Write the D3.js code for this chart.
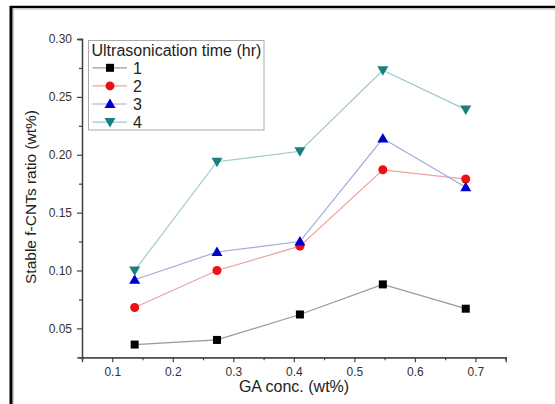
<!DOCTYPE html>
<html><head><meta charset="utf-8">
<script src="https://cdn.jsdelivr.net/npm/d3@7"></script>
<style>body{margin:0;background:#fff;} svg{display:block;font-family:"Liberation Sans",Arial,sans-serif;}</style>
</head><body>
<script>
const gaConc = [0.137, 0.273, 0.41, 0.547, 0.684];
const seriesNames = ["1", "2", "3", "4"];
const s1 = [0.036, 0.040, 0.062, 0.088, 0.067];
const s2 = [0.068, 0.100, 0.121, 0.187, 0.179];
const s3 = [0.092, 0.116, 0.125, 0.214, 0.172];
const s4 = [0.100, 0.194, 0.203, 0.273, 0.239];
const xTicks = [0.1, 0.2, 0.3, 0.4, 0.5, 0.6, 0.7];
const yTicks = [0.05, 0.10, 0.15, 0.20, 0.25, 0.30];
const legendTitle = "Ultrasonication time (hr)";
const xTitle = "GA conc. (wt%)";
const yTitle = "Stable f-CNTs ratio (wt%)";

const W = 555, H = 404;
const svg = d3.select("body").append("svg").attr("width", W).attr("height", H);

// outer frame (top and left edges)
svg.append("rect").attr("x",0).attr("y",0).attr("width",W).attr("height",H).attr("fill","#fff");
svg.append("line").attr("x1",10).attr("x2",W).attr("y1",7).attr("y2",7).attr("stroke","#000").attr("stroke-width",2.5);
svg.append("line").attr("x1",10).attr("x2",W).attr("y1",9).attr("y2",9).attr("stroke","#ccc").attr("stroke-width",1.5);
svg.append("line").attr("x1",11).attr("x2",11).attr("y1",6).attr("y2",H).attr("stroke","#000").attr("stroke-width",3);
svg.append("line").attr("x1",13.5).attr("x2",13.5).attr("y1",9).attr("y2",H).attr("stroke","#ccc").attr("stroke-width",1);

const x = d3.scaleLinear().domain([0.05, 0.75]).range([82, 505.7]);
const y = d3.scaleLinear().domain([0.025, 0.30]).range([357.3, 39]);

const axisColor = "#444";
const xMinor = d3.range(0.05, 0.751, 0.05).map(v => +v.toFixed(3)).filter(v => !xTicks.some(t => Math.abs(t - v) < 1e-6));
const yMinor = d3.range(0.025, 0.301, 0.025).map(v => +v.toFixed(4)).filter(v => !yTicks.some(t => Math.abs(t - v) < 1e-6));

const gx = svg.append("g").attr("transform", `translate(0,${y(0.025)})`)
  .call(d3.axisBottom(x).tickValues(xTicks).tickFormat(d3.format(".1f")).tickSize(5).tickPadding(5));
gx.append("g").call(d3.axisBottom(x).tickValues(xMinor).tickFormat("").tickSize(3));
const gy = svg.append("g").attr("transform", `translate(${x(0.05)},0)`)
  .call(d3.axisLeft(y).tickValues(yTicks).tickFormat(d3.format(".2f")).tickSize(5).tickPadding(5));
gy.append("g").call(d3.axisLeft(y).tickValues(yMinor).tickFormat("").tickSize(3));
[gx, gy].forEach(g => {
  g.selectAll("path.domain").attr("stroke", axisColor).attr("stroke-width", 1.3);
  g.selectAll("line").attr("stroke", axisColor).attr("stroke-width", 1.2);
  g.selectAll("text").attr("fill", "#333").attr("font-size", 12).attr("font-family", '"Liberation Sans",Arial,sans-serif');
});

svg.append("text").attr("x", 294).attr("y", 392).attr("text-anchor","middle")
  .attr("font-size", 16).attr("fill","#222").text(xTitle);
svg.append("text").attr("transform", "translate(36,197) rotate(-90)").attr("text-anchor","middle")
  .attr("font-size", 15.5).attr("fill","#222").text(yTitle);

const colors = ["#000000", "#ee1111", "#0000cc", "#1a7f7f"];
const lineColors = ["#999999", "#f0a0a0", "#a6a6dd", "#9fcaca"];
const allSeries = [s1, s2, s3, s4];
const shapes = ["square", "circle", "up", "down"];

function drawMarker(g, shape, cx, cy, color) {
  if (shape === "square") {
    g.append("rect").attr("x", cx-4).attr("y", cy-4).attr("width",8).attr("height",8).attr("fill",color);
  } else if (shape === "circle") {
    g.append("circle").attr("cx",cx).attr("cy",cy).attr("r",4.5).attr("fill",color);
  } else if (shape === "up") {
    g.append("path").attr("d", `M${cx},${cy-5.5}L${cx+5.5},${cy+4}L${cx-5.5},${cy+4}Z`).attr("fill",color);
  } else {
    g.append("path").attr("d", `M${cx},${cy+5.5}L${cx+5.5},${cy-4}L${cx-5.5},${cy-4}Z`).attr("fill",color);
  }
}

const line = d3.line().x(d => x(d[0])).y(d => y(d[1]));
allSeries.forEach((s, i) => {
  const pts = gaConc.map((c, j) => [c, s[j]]);
  svg.append("path").attr("d", line(pts)).attr("fill","none").attr("stroke", lineColors[i]).attr("stroke-width", 1.2);
});
allSeries.forEach((s, i) => {
  const g = svg.append("g");
  gaConc.forEach((c, j) => drawMarker(g, shapes[i], x(c), y(s[j]), colors[i]));
});

// legend
const lg = svg.append("g");
lg.append("rect").attr("x", 88.5).attr("y", 40.5).attr("width", 175.5).attr("height", 89.5)
  .attr("fill","#fff").attr("stroke","#aaa").attr("stroke-width",1);
lg.append("text").attr("x", 91.5).attr("y", 55.5).attr("font-size", 16).attr("fill","#222").text(legendTitle);
seriesNames.forEach((n, i) => {
  const cy = 67.8 + i * 18.1;
  lg.append("line").attr("x1", 92.5).attr("x2", 127).attr("y1", cy).attr("y2", cy).attr("stroke", lineColors[i]).attr("stroke-width", 1.2);
  drawMarker(lg, shapes[i], 110, cy, colors[i]);
  lg.append("text").attr("x", 133).attr("y", cy + 5.8).attr("font-size", 16).attr("fill","#222").text(n);
});
</script>
</body></html>
